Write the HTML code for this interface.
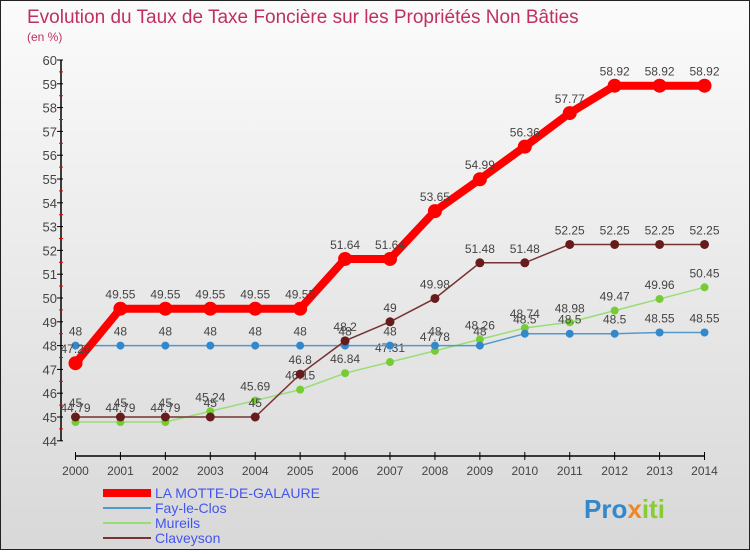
<!DOCTYPE html>
<html><head><meta charset="utf-8"><style>
html,body{margin:0;padding:0}
body{width:750px;height:550px;overflow:hidden;font-family:"Liberation Sans",sans-serif}
#wrap{position:relative;width:748px;height:548px;border:1px solid #222;background:linear-gradient(#fbfbfb,#d8d8d8)}
</style></head><body>
<div id="wrap">
<svg id="chart" width="748" height="548"></svg>
</div>
<script>
const years=[2000,2001,2002,2003,2004,2005,2006,2007,2008,2009,2010,2011,2012,2013,2014];
const motte=[47.26,49.55,49.55,49.55,49.55,49.55,51.64,51.64,53.65,54.99,56.36,57.77,58.92,58.92,58.92];
const fay=[48,48,48,48,48,48,48,48,48,48,48.5,48.5,48.5,48.55,48.55];
const mureils=[44.79,44.79,44.79,45.24,45.69,46.15,46.84,47.31,47.78,48.26,48.74,48.98,49.47,49.96,50.45];
const clav=[45,45,45,45,45,46.8,48.2,49,49.98,51.48,51.48,52.25,52.25,52.25,52.25];
const yTicks=[44,45,46,47,48,49,50,51,52,53,54,55,56,57,58,59,60];
const seriesNames=["LA MOTTE-DE-GALAURE","Fay-le-Clos","Mureils","Claveyson"];
const NS="http://www.w3.org/2000/svg";
const svg=document.getElementById('chart');
const X=i=>74.5+i*44.93;
const Y=v=>59+(60-v)*23.8;
function el(t,a,txt){const e=document.createElementNS(NS,t);for(const k in a)e.setAttribute(k,a[k]);if(txt!==undefined)e.textContent=txt;svg.appendChild(e);return e;}
let e;
e=el('text',{x:26,y:22,'font-size':19,fill:'#c0305f'},'Evolution du Taux de Taxe Foncière sur les Propriétés Non Bâties');

e=el('text',{x:26,y:40,'font-size':12,fill:'#c0305f'},'(en %)');

e=el('line',{x1:60,y1:59,x2:60,y2:Y(44),stroke:'#000','stroke-width':1.5});

e=el('line',{x1:X(0),y1:455,x2:X(14),y2:455,stroke:'#000','stroke-width':1.5});

yTicks.forEach(v=>{
 e=el('line',{x1:56,y1:Y(v),x2:62,y2:Y(v),stroke:'#000'});
 
 if(v<60){e=el('line',{x1:58,y1:Y(v+0.5),x2:62,y2:Y(v+0.5),stroke:'#e00'});
 }
 e=el('text',{x:56,y:Y(v)+5,'font-size':13,fill:'#444','text-anchor':'end'},v);
 
});
years.forEach((yr,i)=>{
 e=el('line',{x1:X(i),y1:451,x2:X(i),y2:459,stroke:'#000'});
 
 e=el('text',{x:X(i),y:474,'font-size':12,fill:'#444','text-anchor':'middle'},yr);
 
});
function series(data,color,w,r,fill,name){
 const g=document.createElementNS(NS,'g');svg.appendChild(g);
 
 const p=document.createElementNS(NS,'polyline');
 p.setAttribute('points',data.map((v,i)=>X(i)+','+Y(v)).join(' '));
 p.setAttribute('fill','none');p.setAttribute('stroke',color);p.setAttribute('stroke-width',w);
 
 g.appendChild(p);
 data.forEach((v,i)=>{
  const c=document.createElementNS(NS,'circle');
  c.setAttribute('cx',X(i));c.setAttribute('cy',Y(v));c.setAttribute('r',r);c.setAttribute('fill',fill);
  
  g.appendChild(c);
  const t=document.createElementNS(NS,'text');
  t.setAttribute('x',X(i));t.setAttribute('y',Y(v)-10);t.setAttribute('font-size',12);
  t.setAttribute('fill','#444');t.setAttribute('text-anchor','middle');t.textContent=v;
  
  g.appendChild(t);
 });
}
series(mureils,'#99dd77',1.5,4,'#77cc33','mureils');
series(fay,'#5599cc',1.5,4,'#3388cc','fay-le-clos');
series(clav,'#773333',1.5,4.5,'#661c1c','claveyson');
series(motte,'#ff0000',8,7,'#ff0000','la-motte-de-galaure');
const legColors=['#ff0000','#5599cc','#99dd77','#773333'];
const legW=[8,2,2,2];
seriesNames.forEach((n,i)=>{
 const y=492+i*15;
 e=el('line',{x1:102,y1:y,x2:150,y2:y,stroke:legColors[i],'stroke-width':legW[i]});
 
 e=el('text',{x:154,y:y+5,'font-size':14,fill:'#4455ee'},n);
 
});
const logo=el('text',{x:583,y:517,'font-size':26,'font-weight':'bold'});

[['Pro','#3388cc'],['x','#ee8822'],['iti','#88cc33']].forEach(([t,c])=>{
 const s=document.createElementNS(NS,'tspan');s.setAttribute('fill',c);s.textContent=t;logo.appendChild(s);
});
</script>
</body></html>
